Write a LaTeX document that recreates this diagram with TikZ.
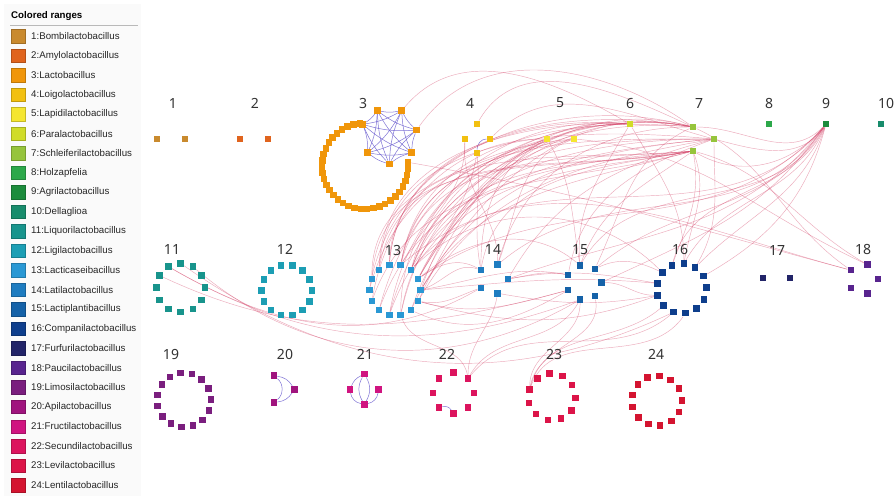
\documentclass[tikz,border=0pt]{standalone}
\usepackage{fontspec}
\setmainfont{Liberation Sans}
\newfontfamily\labfont{Noto Sans}
\usetikzlibrary{calc}
\pgfdeclarelayer{bg}
\pgfdeclarelayer{paper}
\pgfsetlayers{paper,bg,main}
\definecolor{g1}{HTML}{C98A2E}
\definecolor{g2}{HTML}{E0641E}
\definecolor{g3}{HTML}{F0960A}
\definecolor{g4}{HTML}{F2C010}
\definecolor{g5}{HTML}{F5E630}
\definecolor{g6}{HTML}{D0DC28}
\definecolor{g7}{HTML}{96C43C}
\definecolor{g8}{HTML}{2CA84A}
\definecolor{g9}{HTML}{1C8C3C}
\definecolor{g10}{HTML}{188C6C}
\definecolor{g11}{HTML}{18948C}
\definecolor{g12}{HTML}{1C9EB4}
\definecolor{g13}{HTML}{2A98D4}
\definecolor{g14}{HTML}{1E7CC0}
\definecolor{g15}{HTML}{1562A8}
\definecolor{g16}{HTML}{0E3E8C}
\definecolor{g17}{HTML}{222468}
\definecolor{g18}{HTML}{58248E}
\definecolor{g19}{HTML}{7A1E7E}
\definecolor{g20}{HTML}{A0147E}
\definecolor{g21}{HTML}{D01480}
\definecolor{g22}{HTML}{DC145E}
\definecolor{g23}{HTML}{DC1448}
\definecolor{g24}{HTML}{D41430}
\definecolor{edgered}{HTML}{D2365E}
\definecolor{edgeblue}{HTML}{6A5CCF}
\definecolor{labgray}{HTML}{333333}
\newcommand\ringclust[6]{%
  \foreach \i in {1,...,#2}{%
    \node[sq,fill=g#1] (c#1-\i) at ({#3+#5*cos(#6+(\i-1)*360/#2)},{#4-#5*sin(#6+(\i-1)*360/#2)}) {};}}
\begin{document}
\begin{tikzpicture}[x=1pt,y=-1pt,
  sq/.style={rectangle,minimum size=6.5pt,inner sep=0pt,draw=none},
  legsq/.style={rectangle,minimum size=13.5pt,inner sep=0pt,line width=0.3pt},
  legtxt/.style={anchor=west,inner sep=0pt,font=\fontsize{9.7}{10}\selectfont,text=black!85},
  lab/.style={inner sep=0pt,font=\labfont\fontsize{14}{14}\selectfont,text=labgray},
  redge/.style={draw=edgered,opacity=0.42,line width=0.45pt},
  bedge/.style={draw=edgeblue,opacity=0.85,line width=0.5pt}]
\useasboundingbox (0,0) rectangle (896,496);
\begin{pgfonlayer}{paper}
\fill[white] (0,0) rectangle (896,496);
\fill[gray!4] (4,4) rectangle (141,496);
\end{pgfonlayer}
% legend
\node[anchor=west,inner sep=0pt,font=\bfseries\fontsize{9.7}{10}\selectfont] (legtitle) at (11,16) {Colored ranges};
\draw[gray!55,line width=0.8pt] (10,25) -- (138,25);
\foreach \k/\nm in {1/Bombilactobacillus,2/Amylolactobacillus,3/Lactobacillus,4/Loigolactobacillus,5/Lapidilactobacillus,6/Paralactobacillus,7/Schleiferilactobacillus,8/Holzapfelia,9/Agrilactobacillus,10/Dellaglioa,11/Liquorilactobacillus,12/Ligilactobacillus,13/Lacticaseibacillus,14/Latilactobacillus,15/Lactiplantibacillus,16/Companilactobacillus,17/Furfurilactobacillus,18/Paucilactobacillus,19/Limosilactobacillus,20/Apilactobacillus,21/Fructilactobacillus,22/Secundilactobacillus,23/Levilactobacillus,24/Lentilactobacillus}{
  \node[legsq,fill=g\k,draw=g\k!80!black] (leg\k) at (18,{36+(\k-1)*19.52}) {};
  \node[legtxt] (legt\k) at (31,{36+(\k-1)*19.52}) {\k:\nm};
}
% labels
\foreach \t/\x/\y in {1/173/103,2/255/103,3/363/103,4/470/103,5/560/103,6/630/103,7/699/103,8/769/103,9/826/103,10/886/103,
  11/172/249,12/285/249,13/393/250,14/493/249,15/580/250,16/680/249,17/777/250,18/863/249,
  19/171/354,20/285/354,21/365/354,22/447/354,23/554/354,24/656/354}{
  \node[lab] (lab\t) at (\x,\y) {\t};
}
% single nodes
\foreach \n/\c/\x/\y in {c1-1/g1/157/139,c1-2/g1/185/139,c2-1/g2/240/139,c2-2/g2/268/139,
  c4-1/g4/477/124,c4-2/g4/465/139,c4-3/g4/477/153,c4-4/g4/490/139,
  c5-1/g5/547/139,c5-2/g5/574/139,c6-1/g6/630/124,
  c7-1/g7/693/127,c7-2/g7/714/139,c7-3/g7/693/151,
  c8-1/g8/769/124,c9-1/g9/826/124,c10-1/g10/881/124,
  c17-1/g17/763/278,c17-2/g17/790/278,
  c20-1/g20/274/375.7,c20-2/g20/294.3/389.3,c20-3/g20/274/402.5,
  c21-1/g21/364.3/374,c21-2/g21/350/389.3,c21-3/g21/378.6/389.3,c21-4/g21/364.3/404.3,
  c3k-1/g3/389.3/164,c3k-2/g3/411.7/152.7,c3k-3/g3/416.7/130,c3k-4/g3/401.7/110.7,
  c3k-5/g3/377.3/110.7,c3k-6/g3/362.7/124.3,c3k-7/g3/367.7/152.7}{
  \node[sq,fill=\c] (\n) at (\x,\y) {};
}
% cluster 3 ring
\foreach \i in {1,...,33}{
  \node[sq,fill=g3] (c3r-\i) at ({365+43*cos(97+(\i-1)*8.375)},{166-43*sin(97+(\i-1)*8.375)}) {};
}
% ring clusters
\ringclust{11}{12}{180.7}{287.7}{24.3}{90}
\ringclust{12}{14}{286.7}{290.3}{25.3}{77.14}
\ringclust{13}{14}{395}{290}{25.7}{77.14}
\ringclust{14}{5}{493}{279}{15}{0}
\ringclust{15}{7}{584}{282.5}{17.5}{0}
\ringclust{16}{13}{681.7}{288.5}{25}{85}
\ringclust{18}{5}{863}{279}{15}{0}
\ringclust{19}{15}{184}{400}{27}{73}
\ringclust{22}{8}{453.5}{393}{20.5}{90}
\ringclust{23}{11}{552}{397}{23.5}{96}
\ringclust{24}{13}{656.8}{400.7}{25}{84}
\begin{pgfonlayer}{bg}
% clique of cluster 3
\foreach \i in {1,...,6}{
  \pgfmathtruncatemacro\ip{\i+1}
  \foreach \j in {\ip,...,7}{\draw[bedge] (c3k-\i) to[bend left=10] (c3k-\j);}}
\draw[bedge] (c4-3) to[out=90,in=180] (c4-4);
\draw[bedge] (c22-5) to[bend right=35] (c22-4);
\draw[bedge] (c20-1) to[bend left=25] (c20-2);
\draw[bedge] (c20-2) to[bend left=25] (c20-3);
\draw[bedge] (c20-1) to[bend left=50] (c20-3);
\draw[bedge] (c21-1) to[bend left=30] (c21-4);
\draw[bedge] (c21-1) to[bend right=30] (c21-4);
\draw[bedge] (c21-2) to[bend right=35] (c21-4);
\draw[bedge] (c21-3) to[bend left=35] (c21-4);
\draw[bedge] (c21-1) to[bend right=20] (c21-2);
% red edges
\foreach \a/\b/\o/\n in {
  c13-1/c7-1/80/175, c13-1/c7-3/75/185, c13-1/c5-2/80/190, c13-1/c7-2/78/180,
  c13-14/c7-1/70/170, c13-14/c7-2/70/180, c13-14/c5-1/75/195, c13-14/c7-3/68/188,
  c13-13/c7-3/65/190, c13-13/c7-1/60/170, c13-13/c6-1/60/180, c13-13/c5-2/62/195,
  c13-12/c7-2/60/185, c13-12/c6-1/70/180, c13-12/c7-1/58/168,
  c13-2/c7-1/85/170, c13-2/c6-1/85/175, c13-2/c7-3/88/185,
  c13-3/c7-3/80/190, c13-3/c7-2/85/175, c13-3/c6-1/88/178,
  c13-4/c7-3/85/190, c13-4/c5-1/90/200,
  c13-5/c5-2/75/185, c13-5/c7-1/80/165,
  c13-6/c5-1/80/180, c13-6/c7-3/70/195,
  c13-7/c7-3/70/185, c13-7/c6-1/75/175,
  c13-8/c7-1/75/175, c13-8/c7-2/70/185, c13-8/c6-1/80/180,
  c13-9/c7-2/80/180, c13-9/c5-1/90/200, c13-9/c7-1/78/170,
  c13-10/c7-1/70/165, c13-10/c7-3/65/195,
  c13-11/c6-1/65/175, c13-11/c7-2/60/190,
  c14-2/c7-1/75/180, c14-3/c7-3/80/190, c14-2/c5-2/70/200, c14-1/c7-2/60/195, c14-3/c5-1/90/210,
  c15-3/c7-3/70/215, c15-2/c7-1/65/205, c15-3/c6-1/95/240, c15-4/c7-2/80/200, c5-1/c15-3/-60/100,
  c9-1/c16-1/248/60, c9-1/c16-2/245/75, c9-1/c16-13/252/45, c9-1/c16-12/255/30,
  c9-1/c15-2/238/40, c9-1/c15-1/235/25, c9-1/c15-3/242/60,
  c9-1/c14-1/232/20, c9-1/c14-2/236/40, c9-1/c13-13/228/35, c9-1/c13-14/230/50,
  c9-1/c7-2/235/345, c9-1/c7-3/230/330, c9-1/c7-1/225/0,
  c7-3/c18-2/-15/150, c7-1/c18-3/-25/145, c3r-33/c18-3/-10/165, c5-2/c18-2/-5/155, c13-1/c18-3/40/165,
  c11-2/c15-6/-30/200, c11-3/c15-5/-25/195, c11-1/c16-7/-35/205, c11-2/c14-4/-30/210, c11-12/c15-6/-40/210,
  c22-8/c14-5/90/260, c22-8/c15-6/60/240, c22-8/c13-9/100/-70, c22-8/c16-7/50/220,
  c23-3/c15-7/80/280, c23-3/c16-8/70/235, c23-3/c15-6/90/270, c23-3/c16-6/75/220,
  c13-12/c14-3/20/160, c13-13/c14-3/35/150, c13-12/c15-4/10/170, c13-11/c15-5/-15/195,
  c13-13/c15-3/40/140, c13-14/c16-3/45/135, c13-12/c16-4/5/175, c13-11/c16-5/-15/200,
  c14-1/c16-4/10/170, c14-1/c15-4/10/170, c15-1/c16-5/0/180, c15-2/c16-3/25/155,
  c14-5/c16-5/-10/190, c13-10/c15-5/-25/210, c13-11/c14-4/-10/200,
  c3k-3/c7-1/55/145, c4-1/c7-1/60/155, c3k-4/c6-1/50/150, c4-4/c7-2/45/165,
  c4-2/c13-1/-90/60, c4-3/c14-3/-85/100, c4-2/c14-2/-95/90, c4-3/c13-14/-100/50,
  c7-3/c16-2/-80/70, c7-3/c16-1/-70/80, c6-1/c16-1/-60/90, c7-2/c16-13/-90/60}{
  \draw[redge] (\a) to[out=\o,in=\n] (\b);
}
\end{pgfonlayer}
\end{tikzpicture}
\end{document}
